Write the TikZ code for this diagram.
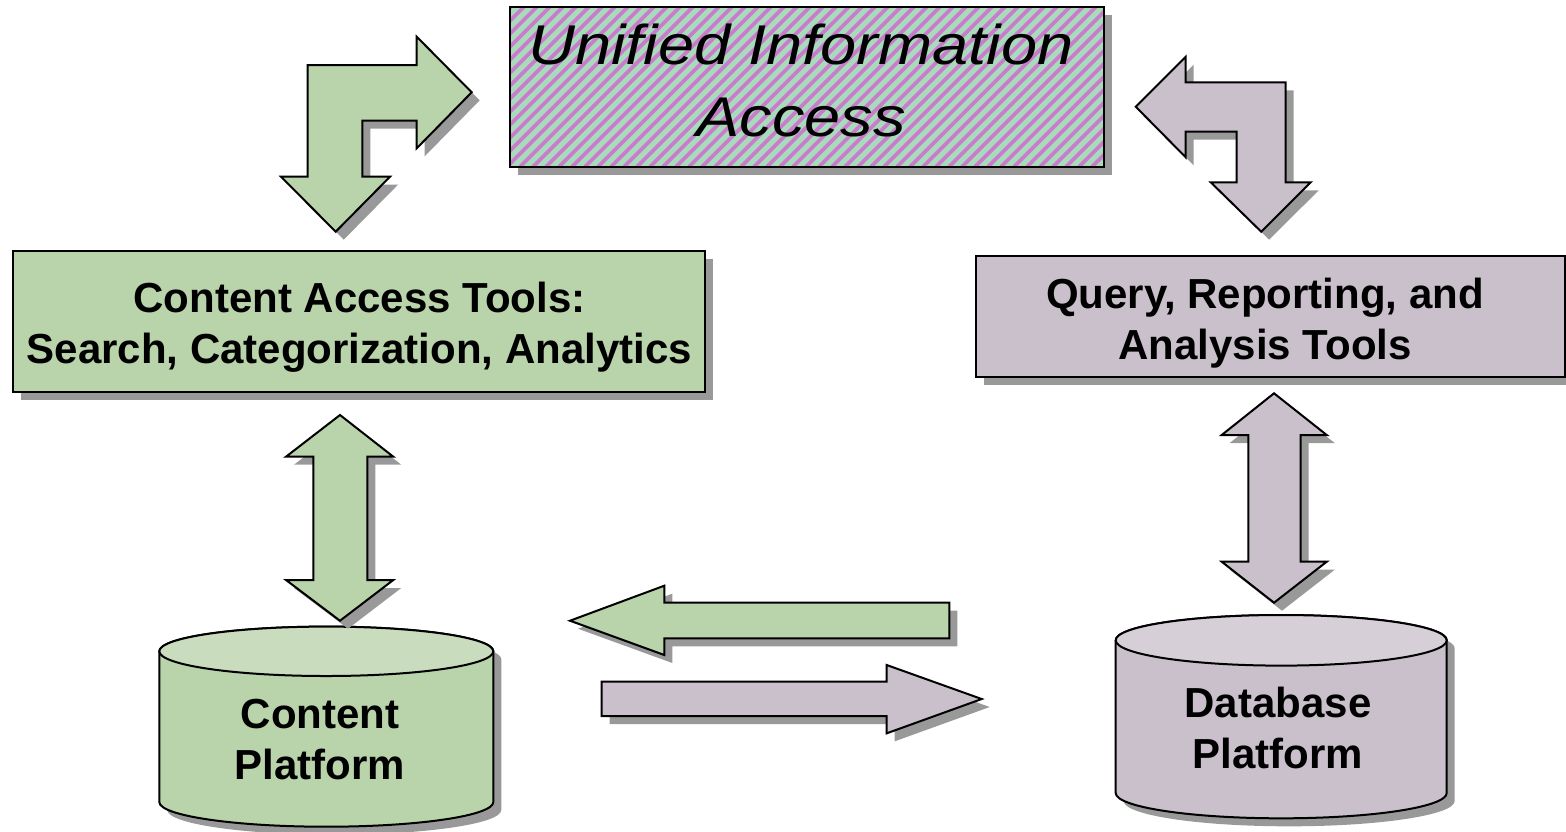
\documentclass[tikz,border=0pt]{standalone}
\usepackage{fontspec}
\setmainfont{Liberation Sans}
\usetikzlibrary{shadows}
\definecolor{gfill}{HTML}{B9D3AA}
\definecolor{gtop}{HTML}{C9DDBE}
\definecolor{pfill}{HTML}{C9C0CB}
\definecolor{ptop}{HTML}{D6CFD7}
\definecolor{shade}{HTML}{999999}
\definecolor{mint}{HTML}{A8DABC}
\definecolor{magen}{HTML}{CB7BCB}
\begin{document}
\begin{tikzpicture}[x=0.5pt,y=-0.5pt,
  shad/.style={general shadow={fill=shade, shadow xshift=4pt, shadow yshift=-4pt}},
  blk/.style={draw=black, line width=1pt, line join=miter, shad},
  box/.style={blk, rectangle, inner sep=0pt},
  lbl/.style={font=\fontsize{21}{25.5}\selectfont\bfseries, align=center, inner sep=0pt},
  ital/.style={font=\fontsize{28}{36}\selectfont\itshape, align=center, inner sep=0pt},
  stripes/.style={path picture={
    \foreach \k in {0,...,62}
      \draw[magen, line width=1.9pt]
        ([xshift=\k*6.5pt-86pt]path picture bounding box.south west) -- ++(86pt,86pt);
  }}
]
\useasboundingbox (0,0) rectangle (1566,831);

% top box
\node[box, fill=mint, stripes, minimum width=297pt, minimum height=79.7pt] (uia) at (807,87) {};
\node[ital] (uiat) at (801,80.5) {\scalebox{1.16}[1]{Unified Information}\\\scalebox{1.16}[1]{Access}};

% left box
\node[box, fill=gfill, minimum width=346pt, minimum height=70.5pt] (cat) at (358.9,321.2) {};
\node[lbl] (catt) at (359.5,327) {Content Access Tools:\\Search, Categorization, Analytics};

% right box
\node[box, fill=pfill, minimum width=294.5pt, minimum height=60.7pt] (qra) at (1270,316.7) {};
\node[lbl] (qrat) at (1265,323) {Query, Reporting, and\\Analysis Tools};

% left cylinder
\path[blk, fill=gfill] (159.3,802) arc[start angle=180,end angle=0,x radius=167,y radius=24.7]
  -- (493.3,651.3) arc[start angle=0,end angle=-180,x radius=167,y radius=24.7] -- cycle;
\draw[line width=1pt, fill=gtop] (326.3,651.3) ellipse [x radius=167, y radius=24.7];
\node[lbl] (cp) at (320,740) {Content\\Platform};

% right cylinder
\path[blk, fill=pfill] (1115.7,793) arc[start angle=180,end angle=0,x radius=165.5,y radius=25.3]
  -- (1446.7,640.3) arc[start angle=0,end angle=-180,x radius=165.5,y radius=25.3] -- cycle;
\draw[line width=1pt, fill=ptop] (1281.2,640.3) ellipse [x radius=165.5, y radius=25.3];
\node[lbl] (dp) at (1278,727.5) {Database\\Platform};

% bent arrows
\path[blk, fill=gfill] (307.7,65) -- (416.7,65) -- (416.7,36.7) -- (471.7,92.3) -- (416.7,148.3)
  -- (416.7,120.7) -- (362.3,120.7) -- (362.3,176.7) -- (390,176.7) -- (335.7,231.7)
  -- (281,176.7) -- (307.7,176.7) -- cycle;
\path[blk, fill=pfill] (1285.7,82.3) -- (1185.7,82.3) -- (1185.7,56.7) -- (1135.7,106.7)
  -- (1185.7,157.3) -- (1185.7,131.7) -- (1236.7,131.7) -- (1236.7,182.3) -- (1210.7,182.3)
  -- (1261.2,231.7) -- (1310.7,182.3) -- (1285.7,182.3) -- cycle;

% vertical double arrows
\path[blk, fill=gfill] (340,415) -- (393.3,456.7) -- (367.3,456.7) -- (367.3,580) -- (393.3,580)
  -- (340,620.7) -- (286,580) -- (313.3,580) -- (313.3,456.7) -- (286,456.7) -- cycle;
\path[blk, fill=pfill] (1274,393.3) -- (1326.7,435) -- (1300.7,435) -- (1300.7,561.7)
  -- (1326.7,561.7) -- (1274,602.7) -- (1221.7,561.7) -- (1248.3,561.7) -- (1248.3,435)
  -- (1221.7,435) -- cycle;

% horizontal arrows
\path[blk, fill=gfill] (570,620.7) -- (664.3,585.7) -- (664.3,602.7) -- (949.3,602.7)
  -- (949.3,638.3) -- (664.3,638.3) -- (664.3,655) -- cycle;
\path[blk, fill=pfill] (601.7,681.7) -- (886.7,681.7) -- (886.7,665) -- (981.7,699)
  -- (886.7,733.3) -- (886.7,716) -- (601.7,716) -- cycle;
\end{tikzpicture}
\end{document}
